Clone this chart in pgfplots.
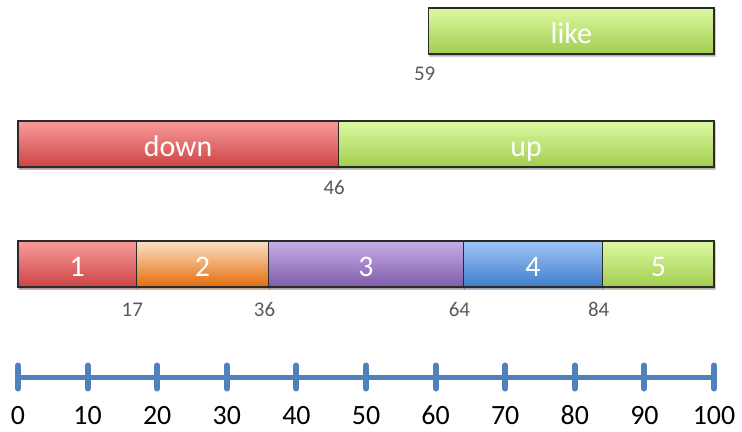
\documentclass[border=0pt]{standalone}
\usepackage{pgfplots}
\pgfplotsset{compat=1.18}
\usepackage{fontspec}
\setmainfont{Carlito}
\usetikzlibrary{shadows}

\definecolor{scaleblue}{HTML}{4F81BD}
\definecolor{valgrey}{HTML}{595959}
\definecolor{edge}{HTML}{2A2A2A}
\definecolor{redT}{HTML}{F99B9B}\definecolor{redB}{HTML}{CC4444}
\definecolor{orgT}{HTML}{FCE0C8}\definecolor{orgB}{HTML}{E46C0A}
\definecolor{purT}{HTML}{C7AEE8}\definecolor{purB}{HTML}{7E5CAA}
\definecolor{bluT}{HTML}{A0C6F7}\definecolor{bluB}{HTML}{3F7DCA}
\definecolor{grnT}{HTML}{DCF9A2}\definecolor{grnB}{HTML}{A3CD50}

% one rectangular segment: x from #1 to #2, rows #3 (top) to #4 (bottom)
\newcommand{\segment}[6]{%
  \addplot[segment, top color=#5, bottom color=#6]
    coordinates {(#1,#3) (#2,#3) (#2,#4) (#1,#4)} -- cycle;}
% white name in the middle of a segment, baseline below the row centre
\newcommand{\segname}[3]{%
  \node[anchor=base, text=white, font=\fontsize{30}{32}\selectfont]
    at (axis cs:#1,#2) {#3};}
% grey boundary value under a row (#2 is the baseline)
\newcommand{\boundary}[2]{%
  \node[anchor=base, text=valgrey, xshift=-4bp, font=\fontsize{21}{23}\selectfont]
    at (axis cs:#1,#2) {#1};}

\pgfplotsset{
  segment/.style={draw=edge, line width=1.1bp, line join=miter,
    drop shadow={opacity=0.22, shadow xshift=1bp, shadow yshift=-2bp}},
}

\begin{document}
\begin{tikzpicture}
\begin{axis}[
  scale only axis, width=742bp, height=432bp,
  xmin=-2.5862, xmax=104.0230,
  ymin=0, ymax=432, y dir=reverse,
  hide axis, clip=false,
  /pgf/number format/assume math mode=true,
]
% five-part row
\segment{0}{17}{241}{287}{redT}{redB}
\segment{17}{36}{241}{287}{orgT}{orgB}
\segment{36}{64}{241}{287}{purT}{purB}
\segment{64}{84}{241}{287}{bluT}{bluB}
\segment{84}{100}{241}{287}{grnT}{grnB}
% two-part row
\segment{0}{46}{121}{167}{redT}{redB}
\segment{46}{100}{121}{167}{grnT}{grnB}
% single segment
\segment{59}{100}{8}{54}{grnT}{grnB}

\segname{8.5}{276.5}{1}
\segname{26.5}{276.5}{2}
\segname{50}{276.5}{3}
\segname{74}{276.5}{4}
\segname{92}{276.5}{5}
\segname{23}{156.5}{down}
\segname{73}{156.5}{up}
\segname{79.5}{43.5}{like}

\boundary{17}{316}
\boundary{36}{316}
\boundary{64}{316}
\boundary{84}{316}
\boundary{46}{194}
\boundary{59}{81}

% number line with tick labels
\addplot[scaleblue, line width=5bp, mark=|, mark size=11.5bp,
  mark options={line width=6bp, line cap=round},
  point meta=x, nodes near coords,
  every node near coord/.style={anchor=base, yshift=-47bp, text=black,
    font=\fontsize{28}{30}\selectfont}]
  coordinates {(0,377) (10,377) (20,377) (30,377) (40,377) (50,377)
               (60,377) (70,377) (80,377) (90,377) (100,377)};
\end{axis}
\pgfresetboundingbox
\path (current axis.south west) rectangle (current axis.north east);
\end{tikzpicture}
\end{document}
